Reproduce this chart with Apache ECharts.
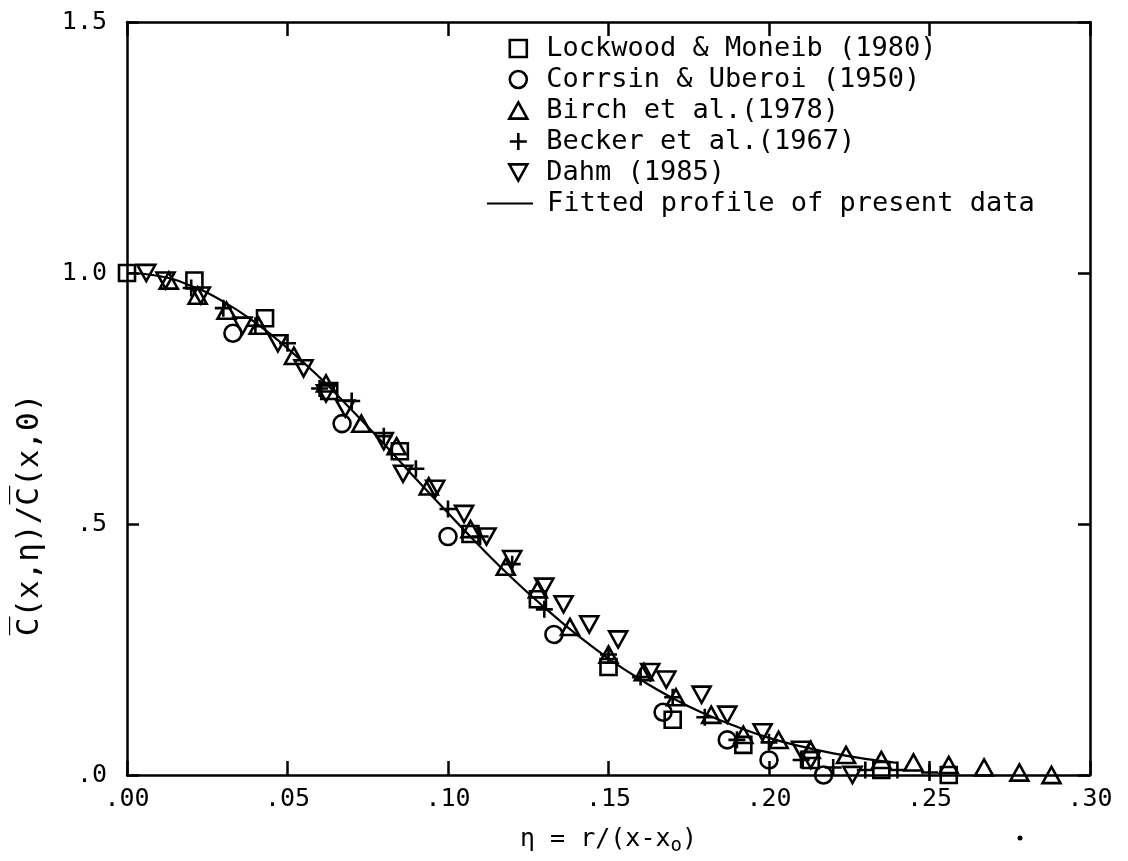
<!DOCTYPE html>
<html>
<head>
<meta charset="utf-8">
<script src="https://cdn.jsdelivr.net/npm/echarts@6/dist/echarts.min.js"></script>
<style>html,body{margin:0;padding:0;background:#fff}#c{width:1128px;height:861px}</style>
</head>
<body>
<div id="c"></div>
<script>
// Data
const seriesNames = ['Lockwood & Moneib (1980)', 'Corrsin & Uberoi (1950)', 'Birch et al.(1978)', 'Becker et al.(1967)', 'Dahm (1985)'];
const lineName = 'Fitted profile of present data';

const lockwoodEta = [0.000, 0.021, 0.043, 0.063, 0.085, 0.107, 0.128, 0.150, 0.170, 0.192, 0.213, 0.235, 0.256];
const lockwoodC   = [1.00, 0.985, 0.91, 0.765, 0.645, 0.48, 0.35, 0.215, 0.11, 0.06, 0.03, 0.01, 0.0];

const corrsinEta = [0.033, 0.067, 0.100, 0.133, 0.167, 0.187, 0.200, 0.217];
const corrsinC   = [0.88, 0.70, 0.475, 0.28, 0.125, 0.07, 0.03, 0.0];

const birchEta = [0.013, 0.022, 0.031, 0.041, 0.052, 0.062, 0.073, 0.084, 0.094, 0.107, 0.118, 0.128, 0.138, 0.150, 0.161, 0.171, 0.182, 0.192, 0.203, 0.213, 0.224, 0.235, 0.245, 0.256, 0.267, 0.278, 0.288];
const birchC   = [0.985, 0.955, 0.925, 0.895, 0.835, 0.78, 0.70, 0.655, 0.575, 0.49, 0.415, 0.37, 0.295, 0.24, 0.205, 0.155, 0.12, 0.08, 0.07, 0.05, 0.04, 0.03, 0.025, 0.02, 0.015, 0.005, 0.0];

const beckerEta = [0.020, 0.030, 0.040, 0.050, 0.060, 0.070, 0.080, 0.090, 0.100, 0.110, 0.120, 0.130, 0.150, 0.160, 0.170, 0.180, 0.190, 0.200, 0.210, 0.220, 0.230, 0.240, 0.250];
const beckerC   = [0.97, 0.93, 0.895, 0.86, 0.77, 0.745, 0.675, 0.61, 0.53, 0.475, 0.42, 0.33, 0.24, 0.195, 0.155, 0.115, 0.07, 0.065, 0.03, 0.015, 0.01, 0.01, 0.005];

const dahmEta = [0.006, 0.012, 0.023, 0.036, 0.047, 0.055, 0.062, 0.068, 0.080, 0.086, 0.096, 0.105, 0.112, 0.120, 0.130, 0.136, 0.144, 0.153, 0.163, 0.168, 0.179, 0.187, 0.198, 0.210, 0.213, 0.226];
const dahmC   = [1.0, 0.985, 0.955, 0.895, 0.86, 0.81, 0.76, 0.73, 0.665, 0.60, 0.57, 0.52, 0.475, 0.43, 0.375, 0.34, 0.30, 0.27, 0.205, 0.19, 0.16, 0.12, 0.085, 0.05, 0.03, 0.0];

const fitEta = [0.00, 0.01, 0.02, 0.03, 0.04, 0.05, 0.06, 0.07, 0.08, 0.09, 0.10, 0.11, 0.12, 0.13, 0.14, 0.15, 0.16, 0.17, 0.18, 0.19, 0.20, 0.21, 0.22, 0.23, 0.24];
const fitC   = [1.000, 0.994, 0.974, 0.943, 0.901, 0.850, 0.792, 0.727, 0.660, 0.590, 0.522, 0.455, 0.392, 0.334, 0.280, 0.232, 0.190, 0.153, 0.122, 0.096, 0.074, 0.057, 0.043, 0.032, 0.024];

const xTicks = { min: 0, max: 0.30, interval: 0.05 };
const yTicks = { min: 0, max: 1.5, interval: 0.5 };

function pairs(xs, ys) { return xs.map((x, i) => [x, ys[i]]); }

const FONT = 'DejaVu Sans Mono';
const symSquare = 'path://M0,0L10,0L10,10L0,10Z';
const symCircle = 'path://M5,0A5,5 0 1 1 4.99,0Z';
const symTri = 'path://M5,0L10,9L0,9Z';
const symPlus = 'path://M5,0L5,10M0,5L10,5';
const symDown = 'path://M0,0L10,0L5,9Z';

function scatter(name, data, symbol, size) {
  return {
    name, type: 'scatter', data, symbol, symbolSize: size, symbolKeepAspect: true,
    itemStyle: { color: 'rgba(0,0,0,0)', borderColor: '#000', borderWidth: 2.6, opacity: 1 },
    emphasis: { disabled: true }, z: 3
  };
}

function xLab(v) { return v.toFixed(2).replace(/^0/, ''); }
function yLab(v) { return v >= 1 ? v.toFixed(1) : v.toFixed(1).replace(/^0/, ''); }

const axisLine = { show: true, onZero: false, lineStyle: { color: '#000', width: 2.5 } };
const tickStyle = { color: '#000', width: 2.5 };

const chart = echarts.init(document.getElementById('c'), null, { renderer: 'canvas' });
chart.setOption({
  animation: false,
  backgroundColor: '#fff',
  textStyle: { fontFamily: FONT, color: '#000' },
  grid: { left: 127, right: 38, top: 22, bottom: 74 },
  legend: [
    {
      data: seriesNames.map((n, i) => ({ name: n, icon: [symSquare, symCircle, symTri, symPlus, symDown][i] })),
      orient: 'vertical', left: 503, top: 30, itemWidth: 18, itemHeight: 17, itemGap: 4,
      symbolKeepAspect: true,
      textStyle: { fontFamily: FONT, fontSize: 27, color: '#000', padding: [0, 0, 0, 14] },
      itemStyle: { color: 'rgba(0,0,0,0)', borderColor: '#000', borderWidth: 2.6, opacity: 1 },
      selectedMode: false
    },
    {
      data: [{ name: lineName, icon: 'rect' }],
      orient: 'vertical', left: 482, top: 185, itemWidth: 46, itemHeight: 2,
      textStyle: { fontFamily: FONT, fontSize: 27, color: '#000', padding: [0, 0, 0, 9] },
      itemStyle: { color: '#000', borderWidth: 0 },
      selectedMode: false
    }
  ],
  graphic: [
    {
      type: 'text', x: 30, y: 515, rotation: Math.PI / 2,
      style: { text: 'C\u0305(x,η)/C\u0305(x,0)', font: '31px "DejaVu Sans Mono"', fill: '#000', align: 'center', verticalAlign: 'middle' }
    },
    { type: 'circle', shape: { cx: 1020, cy: 838, r: 2.5 }, style: { fill: '#000' } }
  ],
  xAxis: [
    {
      type: 'value', position: 'bottom', min: xTicks.min, max: xTicks.max, interval: xTicks.interval,
      axisLine, splitLine: { show: false },
      axisTick: { show: true, inside: true, length: 14, lineStyle: tickStyle },
      axisLabel: { formatter: xLab, fontFamily: FONT, fontSize: 25, color: '#000', margin: 12 },
      name: 'η = r/(x-x{sub|o})', nameLocation: 'middle', nameGap: 48,
      nameTextStyle: { fontFamily: FONT, fontSize: 25, color: '#000', rich: { sub: { fontFamily: FONT, fontSize: 19, verticalAlign: 'bottom', padding: [14, 0, 0, 0] } } }
    },
    {
      type: 'value', position: 'top', min: xTicks.min, max: xTicks.max, interval: xTicks.interval,
      axisLine, splitLine: { show: false },
      axisTick: { show: true, inside: true, length: 14, lineStyle: tickStyle },
      axisLabel: { show: false }
    }
  ],
  yAxis: [
    {
      type: 'value', position: 'left', min: yTicks.min, max: yTicks.max, interval: yTicks.interval,
      axisLine, splitLine: { show: false },
      axisTick: { show: true, inside: true, length: 12, lineStyle: tickStyle },
      axisLabel: { formatter: yLab, fontFamily: FONT, fontSize: 25, color: '#000', margin: 20 }
    },
    {
      type: 'value', position: 'right', min: yTicks.min, max: yTicks.max, interval: yTicks.interval,
      axisLine, splitLine: { show: false },
      axisTick: { show: true, inside: true, length: 12, lineStyle: tickStyle },
      axisLabel: { show: false }
    }
  ],
  series: [
    scatter(seriesNames[0], pairs(lockwoodEta, lockwoodC), symSquare, 16),
    scatter(seriesNames[1], pairs(corrsinEta, corrsinC), symCircle, 17),
    scatter(seriesNames[2], pairs(birchEta, birchC), symTri, 18),
    scatter(seriesNames[3], pairs(beckerEta, beckerC), symPlus, 17),
    scatter(seriesNames[4], pairs(dahmEta, dahmC), symDown, 18),
    {
      name: lineName, type: 'line', data: pairs(fitEta, fitC), smooth: true,
      showSymbol: false, symbol: 'none', lineStyle: { color: '#000', width: 2.2 }, itemStyle: { color: '#000' },
      emphasis: { disabled: true }, z: 2
    }
  ]
});
</script>
</body>
</html>
